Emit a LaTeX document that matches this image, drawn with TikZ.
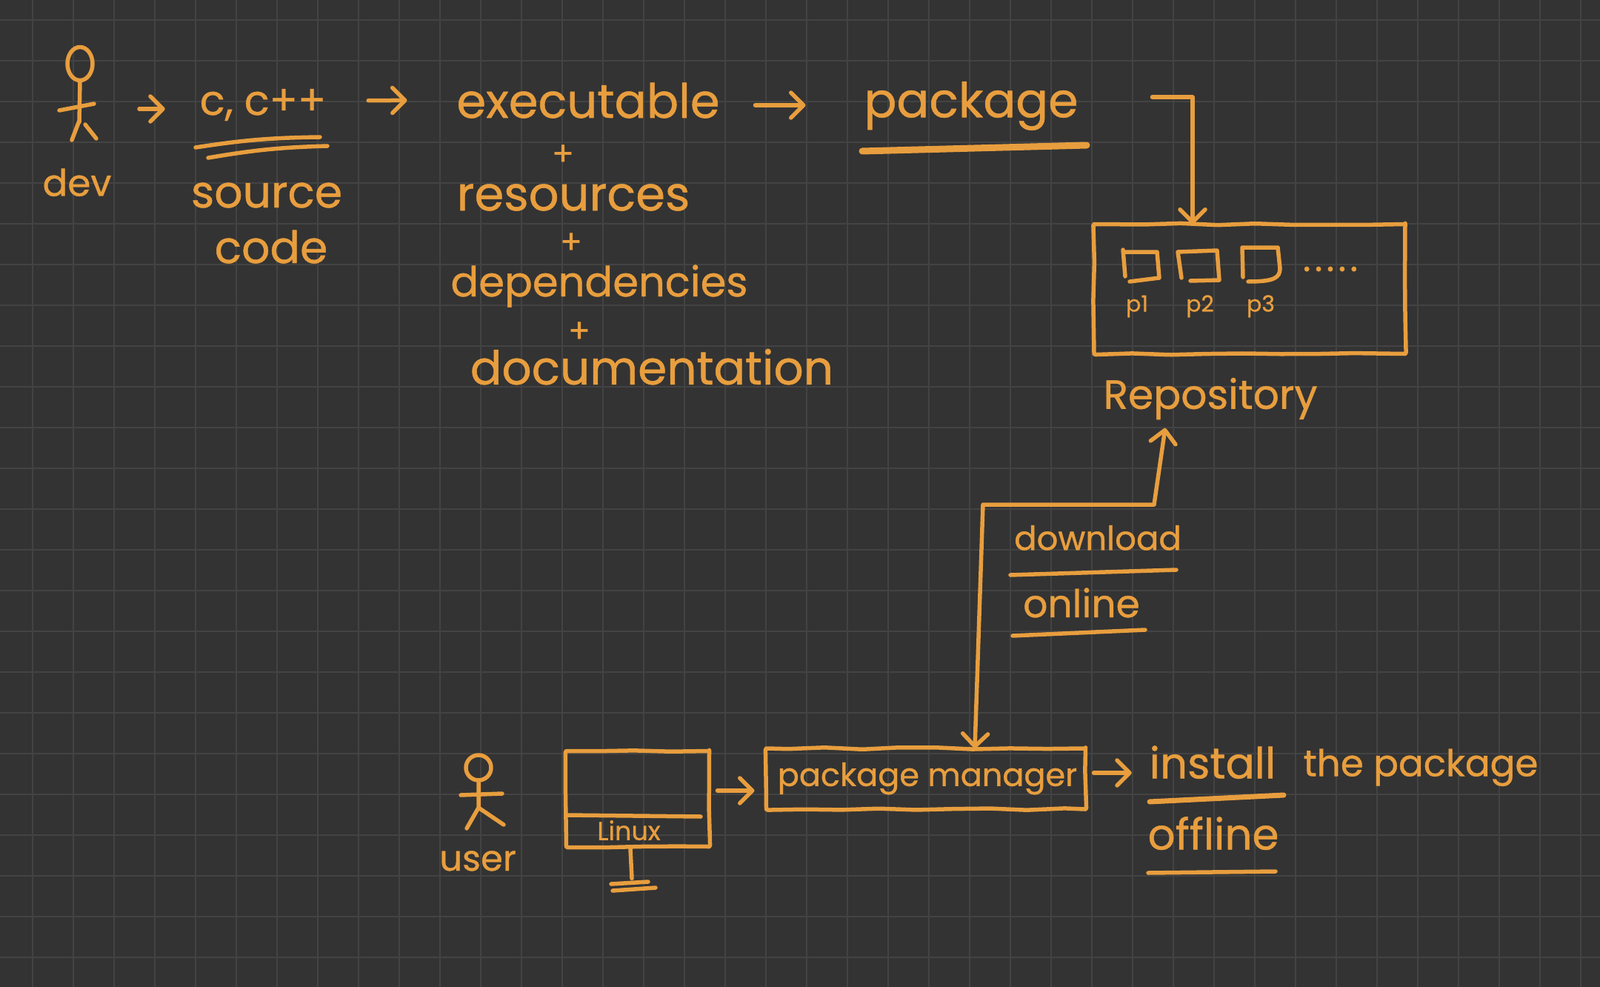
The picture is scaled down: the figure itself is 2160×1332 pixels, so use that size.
\documentclass[tikz,border=0pt]{standalone}
\usepackage{fontspec}
\usepackage[dvipsnames]{xcolor}
\setmainfont[FakeBold=0.8]{Poppins}
\usetikzlibrary{arrows.meta,shapes.geometric,decorations.pathmorphing}
\definecolor{ink}{HTML}{E89E3E}
\definecolor{paper}{HTML}{333333}
\definecolor{gridline}{HTML}{434343}

\begin{document}
\begin{tikzpicture}[x=1pt,y=-1pt,>={Straight Barb[round,length=17pt,width=34pt]},color=ink,line width=5.5pt,line cap=round,line join=round,
    text node/.style={inner sep=0pt,outer sep=0pt,text height=#1*.7pt,text depth=#1*.2pt,font=\fontsize{#1}{#1}\selectfont},
    frame node/.style={draw,inner sep=0pt,outer sep=0pt,decorate,decoration={random steps,segment length=50pt,amplitude=1.4pt},rounded corners=2pt},
    flow/.style={->}]
            \path[use as bounding box,fill=paper] (0,0) rectangle (2160,1332);
            \foreach \gx in {0,...,38}
                \draw[gridline,line width=2pt] (44+55*\gx,0) -- (44+55*\gx,1332);
            \foreach \gy in {0,...,23}
                \draw[gridline,line width=2pt] (0,27+55*\gy) -- (2160,27+55*\gy);

            \node[draw,ellipse,inner sep=0pt,outer sep=0pt,minimum width=34pt,minimum height=45pt] (devhead) at (108,86) {};
            \coordinate (devarm) at (127,147);
            \node[text node=50] (dev) at (104,252) {dev};
            \node[text node=56] (ccpp) at (355,141) {c, c++};
            \node[text node=60] (source) at (360,265) {source};
            \node[text node=60] (code) at (366,340) {code};
            \node[text node=64] (exec) at (794,143) {executable};
            \node[text node=44] (plusa) at (760,212) {+};
            \node[text node=64] (res) at (774,268) {resources};
            \node[text node=44] (plusb) at (771,331) {+};
            \node[text node=56] (deps) at (809,386) {dependencies};
            \node[text node=44] (plusc) at (782,451) {+};
            \node[text node=63] (docs) at (880,503) {documentation};
            \node[text node=65] (pkg) at (1311,142) {package};

            \node[frame node,minimum width=420pt,minimum height=175pt] (repobox) at (1687,390) {};
            \node[text node=30] (pa) at (1535,413) {p1};
            \node[text node=30] (pb) at (1620,413) {p2};
            \node[text node=30] (pc) at (1702,413) {p3};
            \node[text node=52] (more) at (1796,353) {.\kern5pt.\kern5pt.\kern5pt.\kern5pt.};
            \node[text node=55] (repolabel) at (1634,538) {Repository};

            \node[text node=45] (down) at (1482,731) {download};
            \node[text node=52] (online) at (1460,820) {online};
            \coordinate (dlcorner) at (1327,681);
            \coordinate (dlturn) at (1558,681);

            \node[draw,circle,inner sep=0pt,outer sep=0pt,minimum size=34pt] (userhead) at (646,1036) {};
            \node[text node=48] (user) at (645,1163) {user};
            \node[frame node,minimum width=193pt,minimum height=129pt] (monitor) at (861,1078) {};
            \node[text node=35] (linux) at (849,1125) {Linux};
            \node[frame node,minimum width=431pt,minimum height=82pt] (pmbox) at (1250,1051) {};
            \node[text node=43] (pm) at (1252,1050) {package manager};
            \node[text node=58] (install) at (1637,1036) {install};
            \node[text node=50] (thepkg) at (1918,1035) {the package};
            \node[text node=58] (offline) at (1638,1132) {offline};

            \draw (devhead.south) -- (107,165) (80,149) -- (127,140) (107,163) -- (97,189) (115,168) -- (130,187);
            \draw (userhead.south) -- (646,1090) (622,1073) -- (678,1071) (646,1090) -- (630,1118) (646,1090) -- (680,1113);

            \draw (264,199) to[bend left=4] (432,185);
            \draw (281,213) to[bend left=4] (442,197);
            \draw[line width=9pt] (1164,204) -- (1467,196);
            \draw (1364,776) -- (1588,769);
            \draw (1367,858) -- (1546,850);
            \draw[line width=7pt] (1552,1082) -- (1733,1073);
            \draw (1550,1178) -- (1722,1176);

            \draw (1519,373) -- (1516,337) (1516,340) -- (1562,340) -- (1565,375) -- (1525,380);
            \draw (1595,375) -- (1590,340) -- (1643,338) -- (1646,378) -- (1607,379);
            \draw (1678,374) -- (1677,334) -- (1725,334) -- (1728,362) .. controls (1728,375) and (1720,380) .. (1685,380);

            \draw (monitor.west |- 0,1100) -- (946,1102);
            \draw (monitor.south) ++(-10,3) -- ++(2,40);
            \draw (825,1193) -- (875,1190) (827,1202) -- (885,1198);

            \path[flow]
                (devarm) edge[shorten <=61pt,shorten >=47pt] ([yshift=-6pt]ccpp.west)
                ([yshift=5pt]ccpp.east) edge[shorten <=57pt,shorten >=67pt] ([yshift=8pt]exec.west)
                ([yshift=1pt]exec.east) edge[shorten <=48pt,shorten >=79pt] (pkg.west)
                ([yshift=11pt]monitor.east) edge[shorten <=11pt,shorten >=16pt] ([yshift=-16pt]pmbox.west)
                ([yshift=8pt]pmbox.east) edge[shorten <=11pt,shorten >=24pt] ([yshift=-7pt]install.west)
                ;
            \draw[flow] ([xshift=100pt,yshift=11pt]pkg.east) -| ([xshift=-77pt]repobox.north);
            \draw[<->] ([xshift=66pt]pmbox.north) -- (dlcorner) -- (dlturn) -- ([xshift=-61pt,yshift=-15pt]repolabel.south);
        \end{tikzpicture}
\end{document}
